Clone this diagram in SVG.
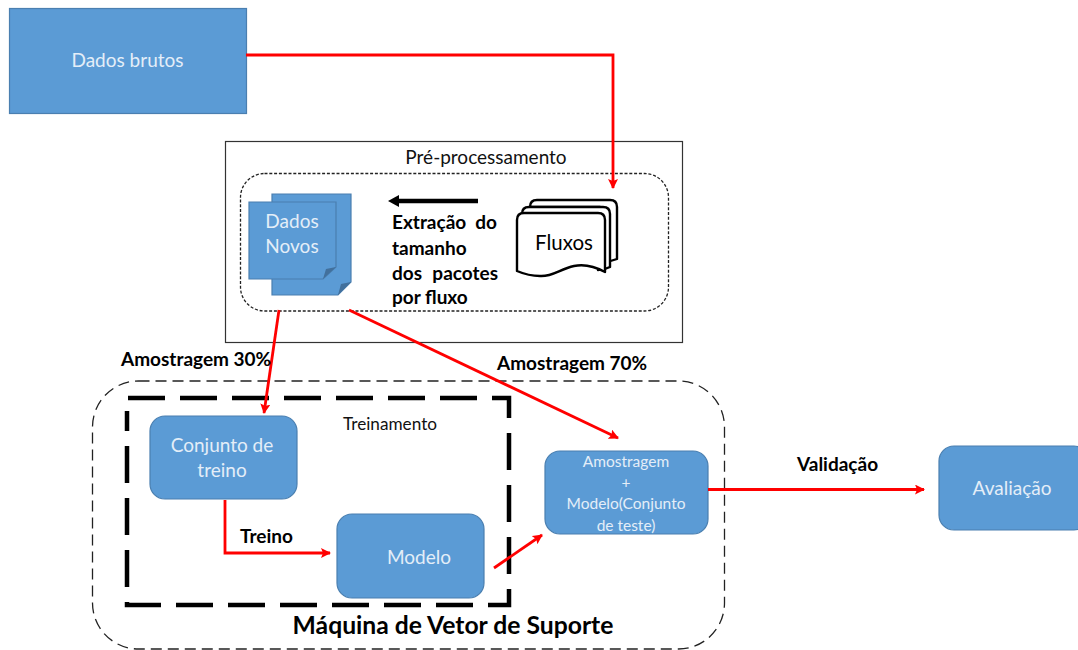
<svg xmlns="http://www.w3.org/2000/svg" width="1078" height="650" viewBox="0 0 1078 650">
<defs>
<marker id="ar" markerUnits="userSpaceOnUse" markerWidth="12" markerHeight="12" refX="9" refY="5" orient="auto"><path d="M0 0L10 5L0 10L2 5Z" fill="#ff0000"/></marker>
<marker id="ak" markerUnits="userSpaceOnUse" markerWidth="14" markerHeight="14" refX="3" refY="6" orient="auto"><path d="M0 0L11 6L0 12Z" fill="#000"/></marker>
</defs>
<style>
text{font-family:Lato,"Liberation Sans",sans-serif}
.b{fill:#5b9bd5;stroke:#4a7fb0;stroke-width:1.2}
.w{fill:#e4eef8;font-size:19px;text-anchor:middle}
.s{fill:#e4eef8;font-size:15.5px;text-anchor:middle}
.l{fill:#000;font-size:19px;font-weight:700}
.r{fill:none;stroke:#ff0000;stroke-width:2.8;marker-end:url(#ar)}
.f{fill:#fff;stroke:#000;stroke-width:2.4;stroke-linejoin:round}
</style>
<rect width="1078" height="650" fill="#fff"/>
<g id="preprocessamento">
<rect x="225.500" y="141.500" width="457" height="201" fill="#fff" stroke="#333" stroke-width="1.2"/>
<rect x="240.500" y="173.500" width="428" height="137.500" rx="24" fill="none" stroke="#222" stroke-width="1.3" stroke-dasharray="3 1.800"/>
<text x="486" y="164" font-size="19" text-anchor="middle" fill="#111">Pré-processamento</text>
</g>
<g id="svm">
<rect x="92.500" y="381" width="632" height="268" rx="46" fill="none" stroke="#222" stroke-width="1.300" stroke-dasharray="11 6"/>
<text x="453" y="634" font-size="24.700" font-weight="700" text-anchor="middle" fill="#000">Máquina de Vetor de Suporte</text>
</g>
<g id="treinamento">
<path d="M128 398H509V605H127V411" fill="none" stroke="#000" stroke-width="4.500" stroke-dasharray="37 15"/>
<text x="390" y="430" font-size="17.200" text-anchor="middle" fill="#111">Treinamento</text>
</g>
<g id="dados-brutos">
<rect class="b" x="9.500" y="8.500" width="237" height="105"/>
<text class="w" x="127.500" y="67">Dados brutos</text>
</g>
<g id="dados-novos">
<path class="b" d="M272 194H351V282L338 295H272Z"/>
<path d="M351 282L341 284L338 295Z" fill="#42709c"/>
<path class="b" d="M249 202H336V267L323 279H249Z"/>
<path d="M336 267L326 269L323 279Z" fill="#42709c"/>
<text class="w" x="292" y="228">Dados</text>
<text class="w" x="292" y="253">Novos</text>
</g>
<g id="fluxos">
<path class="f" d="M530 207Q530 200 537 200H610Q617 200 617 207V259Q609 262 600 263V207Z"/>
<path class="f" d="M522 214Q522 207 529 207H603Q610 207 610 214V267Q604 270 598 270V214Z"/>
<path class="f" d="M517 220Q517 213 524 213H598Q605 213 605 220V272C594 266 584 264 574 266C560 269 552 277 540 276C531 276 524 274 517 271Z"/>
<text x="564" y="250" font-size="20.500" text-anchor="middle" fill="#000">Fluxos</text>
</g>
<g id="conjunto-treino">
<rect class="b" x="150" y="416" width="147" height="83" rx="15"/>
<text class="w" x="222" y="452">Conjunto de</text>
<text class="w" x="222" y="477">treino</text>
</g>
<g id="modelo">
<rect class="b" x="337" y="514" width="147" height="84" rx="15"/>
<text class="w" x="419" y="564">Modelo</text>
</g>
<g id="amostragem">
<rect class="b" x="545" y="451" width="163" height="83" rx="15"/>
<text class="s" x="626" y="467">Amostragem</text>
<text class="s" x="626" y="488">+</text>
<text class="s" x="626" y="509">Modelo(Conjunto</text>
<text class="s" x="626" y="531">de teste)</text>
</g>
<g id="avaliacao">
<rect class="b" x="939" y="446" width="150" height="84" rx="15"/>
<text class="w" x="1012" y="495">Avaliação</text>
</g>
<g id="connectors">
<path class="r" d="M246 55H613V188"/>
<path class="r" d="M279 310L264 413"/>
<path class="r" d="M349 310L618 438"/>
<path class="r" d="M225 500V553H330"/>
<path class="r" d="M494 568L542 535"/>
<path class="r" d="M708 489.500H924" stroke-width="3.200"/>
<path d="M478 201H396" fill="none" stroke="#000" stroke-width="4.500" marker-end="url(#ak)"/>
</g>
<g id="labels">
<text class="l" x="392" y="229">Extração</text><text class="l" x="497" y="229" text-anchor="end">do</text>
<text class="l" x="392" y="255">tamanho</text>
<text class="l" x="392" y="280">dos</text><text class="l" x="498" y="280" text-anchor="end">pacotes</text>
<text class="l" x="392" y="304">por fluxo</text>
<text class="l" x="121" y="366">Amostragem 30%</text>
<text class="l" x="497" y="370">Amostragem 70%</text>
<text class="l" x="240" y="543">Treino</text>
<text class="l" x="797" y="471">Validação</text>
</g>
</svg>
